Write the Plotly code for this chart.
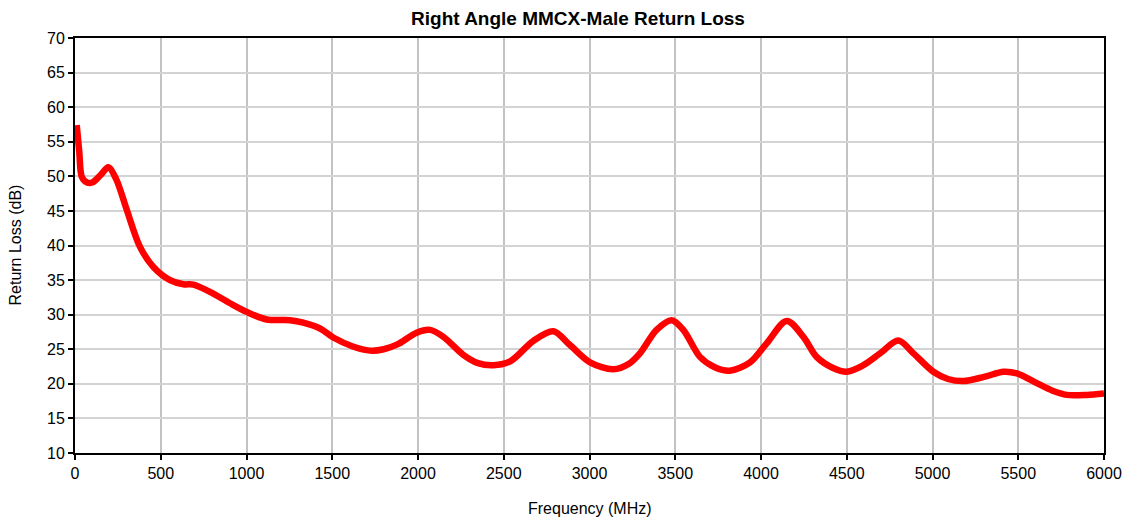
import plotly.graph_objects as go

freq_mhz = [10, 25, 40, 70, 100, 150, 194, 240, 300, 379, 457, 554, 632, 690, 787, 904, 1001,
            1118, 1254, 1331, 1429, 1506, 1620, 1720, 1800, 1880, 1992, 2070, 2148, 2264, 2350,
            2439, 2540, 2672, 2789, 2886, 3003, 3139, 3230, 3294, 3391, 3479, 3547, 3644, 3730,
            3819, 3936, 4033, 4150, 4247, 4324, 4420, 4500, 4590, 4694, 4801, 4889, 5005,
            5090, 5180, 5300, 5414, 5492, 5608, 5700, 5783, 5900, 6000]
return_loss_db = [57.4, 53.5, 49.9, 49.1, 49.1, 50.2, 51.3, 49.6, 45.3, 39.8, 36.9, 35.0, 34.4, 34.35,
                  33.3, 31.65, 30.4, 29.3, 29.2, 28.85, 28.0, 26.7, 25.4, 24.8, 25.0, 25.7, 27.4, 27.8,
                  26.8, 24.2, 23.0, 22.7, 23.3, 26.2, 27.6, 25.6, 23.1, 22.1, 22.9, 24.4, 27.8, 29.2,
                  27.8, 23.9, 22.4, 21.9, 23.1, 25.85, 29.1, 26.8, 23.9, 22.3, 21.75, 22.6, 24.4,
                  26.25, 24.4, 21.75, 20.7, 20.4, 21.0, 21.75, 21.5, 20.1, 19.0, 18.4, 18.4, 18.6]

x_ticks = list(range(0, 6001, 500))
y_ticks = list(range(10, 71, 5))

fig = go.Figure()
fig.add_trace(go.Scatter(
    x=freq_mhz, y=return_loss_db, mode="lines",
    line=dict(color="#ff0000", width=6.5, shape="spline", smoothing=0.9),
    showlegend=False, hoverinfo="x+y"))

font_family = "Liberation Sans, Arial, sans-serif"
fig.update_layout(
    width=1126, height=521,
    margin=dict(l=75, r=22, t=38, b=68),
    paper_bgcolor="white", plot_bgcolor="white",
    font=dict(family=font_family, size=16, color="#000000"),
    title=dict(text="<b>Right Angle MMCX-Male Return Loss</b>", x=578 / 1126, xanchor="center",
               y=1 - 18 / 521, yanchor="middle", font=dict(size=19, family=font_family, color="#000000")),
    annotations=[
        dict(text="Frequency (MHz)", xref="paper", yref="paper", x=0.5, y=0,
             xanchor="center", yanchor="middle", yshift=-55, showarrow=False,
             font=dict(size=16, family=font_family, color="#000000")),
        dict(text="Return Loss (dB)", xref="paper", yref="paper", x=0, y=0.5,
             xanchor="center", yanchor="middle", xshift=-60, textangle=-90, showarrow=False,
             font=dict(size=16, family=font_family, color="#000000")),
    ],
)
fig.update_xaxes(
    range=[0, 6000], tickvals=x_ticks, ticktext=[str(v) for v in x_ticks],
    showgrid=True, gridcolor="#c3c3c3", gridwidth=2,
    showline=True, linecolor="black", linewidth=2, mirror=True,
    ticks="outside", ticklen=5, tickwidth=1.5, tickcolor="black",
    tickfont=dict(size=16), zeroline=False, automargin=False,
)
fig.update_yaxes(
    range=[10, 70], tickvals=y_ticks, ticktext=[str(v) for v in y_ticks],
    showgrid=True, gridcolor="#d3d3d3", gridwidth=1.5,
    showline=True, linecolor="black", linewidth=2, mirror=True,
    ticks="outside", ticklen=5, tickwidth=1.5, tickcolor="black",
    tickfont=dict(size=16), zeroline=False, automargin=False,
)

fig.write_html("out.html", config={"displayModeBar": False},
               post_script="document.body.style.margin='0px';")
